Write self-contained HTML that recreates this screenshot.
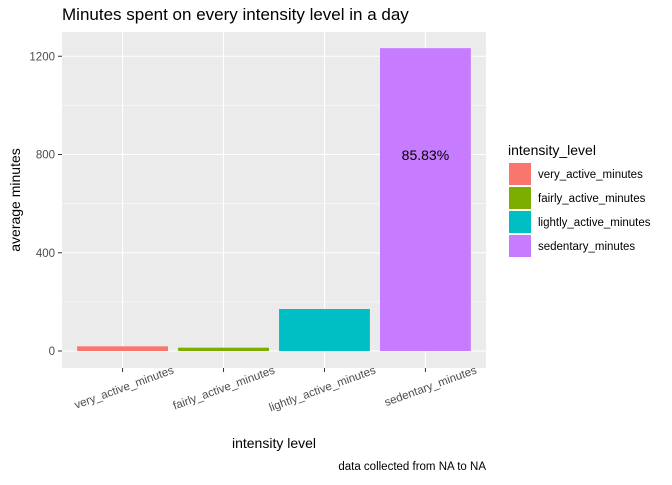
<!DOCTYPE html>
<html><head><meta charset="utf-8"><style>
body{margin:0;background:#fff;font-family:"Liberation Sans",sans-serif}
</style></head><body>
<svg width="672" height="480" xmlns="http://www.w3.org/2000/svg" font-family="Liberation Sans, sans-serif">
<text x="62" y="20" font-size="17" fill="#000">Minutes spent on every intensity level in a day</text>
<rect x="62" y="32" width="424" height="336" fill="#ebebeb"/>
<g id="grid"></g>
<g id="bars"></g>
<g id="yticks"></g>
<g id="xticks"></g>
<text x="425" y="160" font-size="14" text-anchor="middle" fill="#000" id="pct">85.83%</text>
<text transform="translate(20,200) rotate(-90)" font-size="14" text-anchor="middle">average minutes</text>
<text x="274" y="448" font-size="14" text-anchor="middle">intensity level</text>
<text x="486" y="470" font-size="11.5" text-anchor="end">data collected from NA to NA</text>
<g>
<text x="508" y="155" font-size="14">intensity_level</text>
<g id="legend"></g>
</g>
</svg>
<script>
const categories=["very_active_minutes","fairly_active_minutes","lightly_active_minutes","sedentary_minutes"];
const values=[19,13.5,171,1233];
const colors=["#F8766D","#7CAE00","#00BFC4","#C77CFF"];
const yTicks=[0,400,800,1200];
const ns="http://www.w3.org/2000/svg";
const y=v=>351-v*98.25/400;
const x=i=>62+(0.6+i)*424/4.2;
const bw=0.9*424/4.2;
function mk(tag,attrs,parent,txt){const e=document.createElementNS(ns,tag);for(const k in attrs)e.setAttribute(k,attrs[k]);if(txt!=null)e.textContent=txt;document.getElementById(parent).appendChild(e);return e;}
const grid="grid";
for(let i=0;i<yTicks.length-1;i++){const m=(yTicks[i]+yTicks[i+1])/2;const g=mk("line",{x1:62,x2:486,y1:y(m),y2:y(m),stroke:"#fff","stroke-width":0.5},grid);}
yTicks.forEach(t=>{const g=mk("line",{x1:62,x2:486,y1:y(t),y2:y(t),stroke:"#fff","stroke-width":1.1},grid);
const k=mk("line",{x1:58,x2:62,y1:y(t),y2:y(t),stroke:"#333"},"yticks");
const l=mk("text",{x:55,y:y(t)+4,"font-size":11.5,"text-anchor":"end",fill:"#4d4d4d"},"yticks",t);});
categories.forEach((c,i)=>{const g=mk("line",{x1:x(i),x2:x(i),y1:32,y2:368,stroke:"#fff","stroke-width":1.1},grid);});
categories.forEach((c,i)=>{const b=mk("rect",{x:x(i)-bw/2,y:y(values[i]),width:bw,height:y(0)-y(values[i]),fill:colors[i]},"bars");
const k=mk("line",{x1:x(i),x2:x(i),y1:368,y2:372,stroke:"#333"},"xticks");
const l=mk("text",{transform:`translate(${x(i)+52},${373}) rotate(-20)`,"font-size":11.5,"text-anchor":"end",fill:"#4d4d4d"},"xticks",c);
const r=mk("rect",{x:509,y:163+i*24,width:22,height:22,fill:colors[i]},"legend");
const t=mk("text",{x:538,y:178+i*24,"font-size":11.5,fill:"#000"},"legend",c);});
const tot=values.reduce((a,b)=>a+b,0);
document.getElementById("pct").textContent=(values[3]/tot*100).toFixed(2)+"%";
document.getElementById("pct").setAttribute("x",x(3));
</script>
</body></html>
